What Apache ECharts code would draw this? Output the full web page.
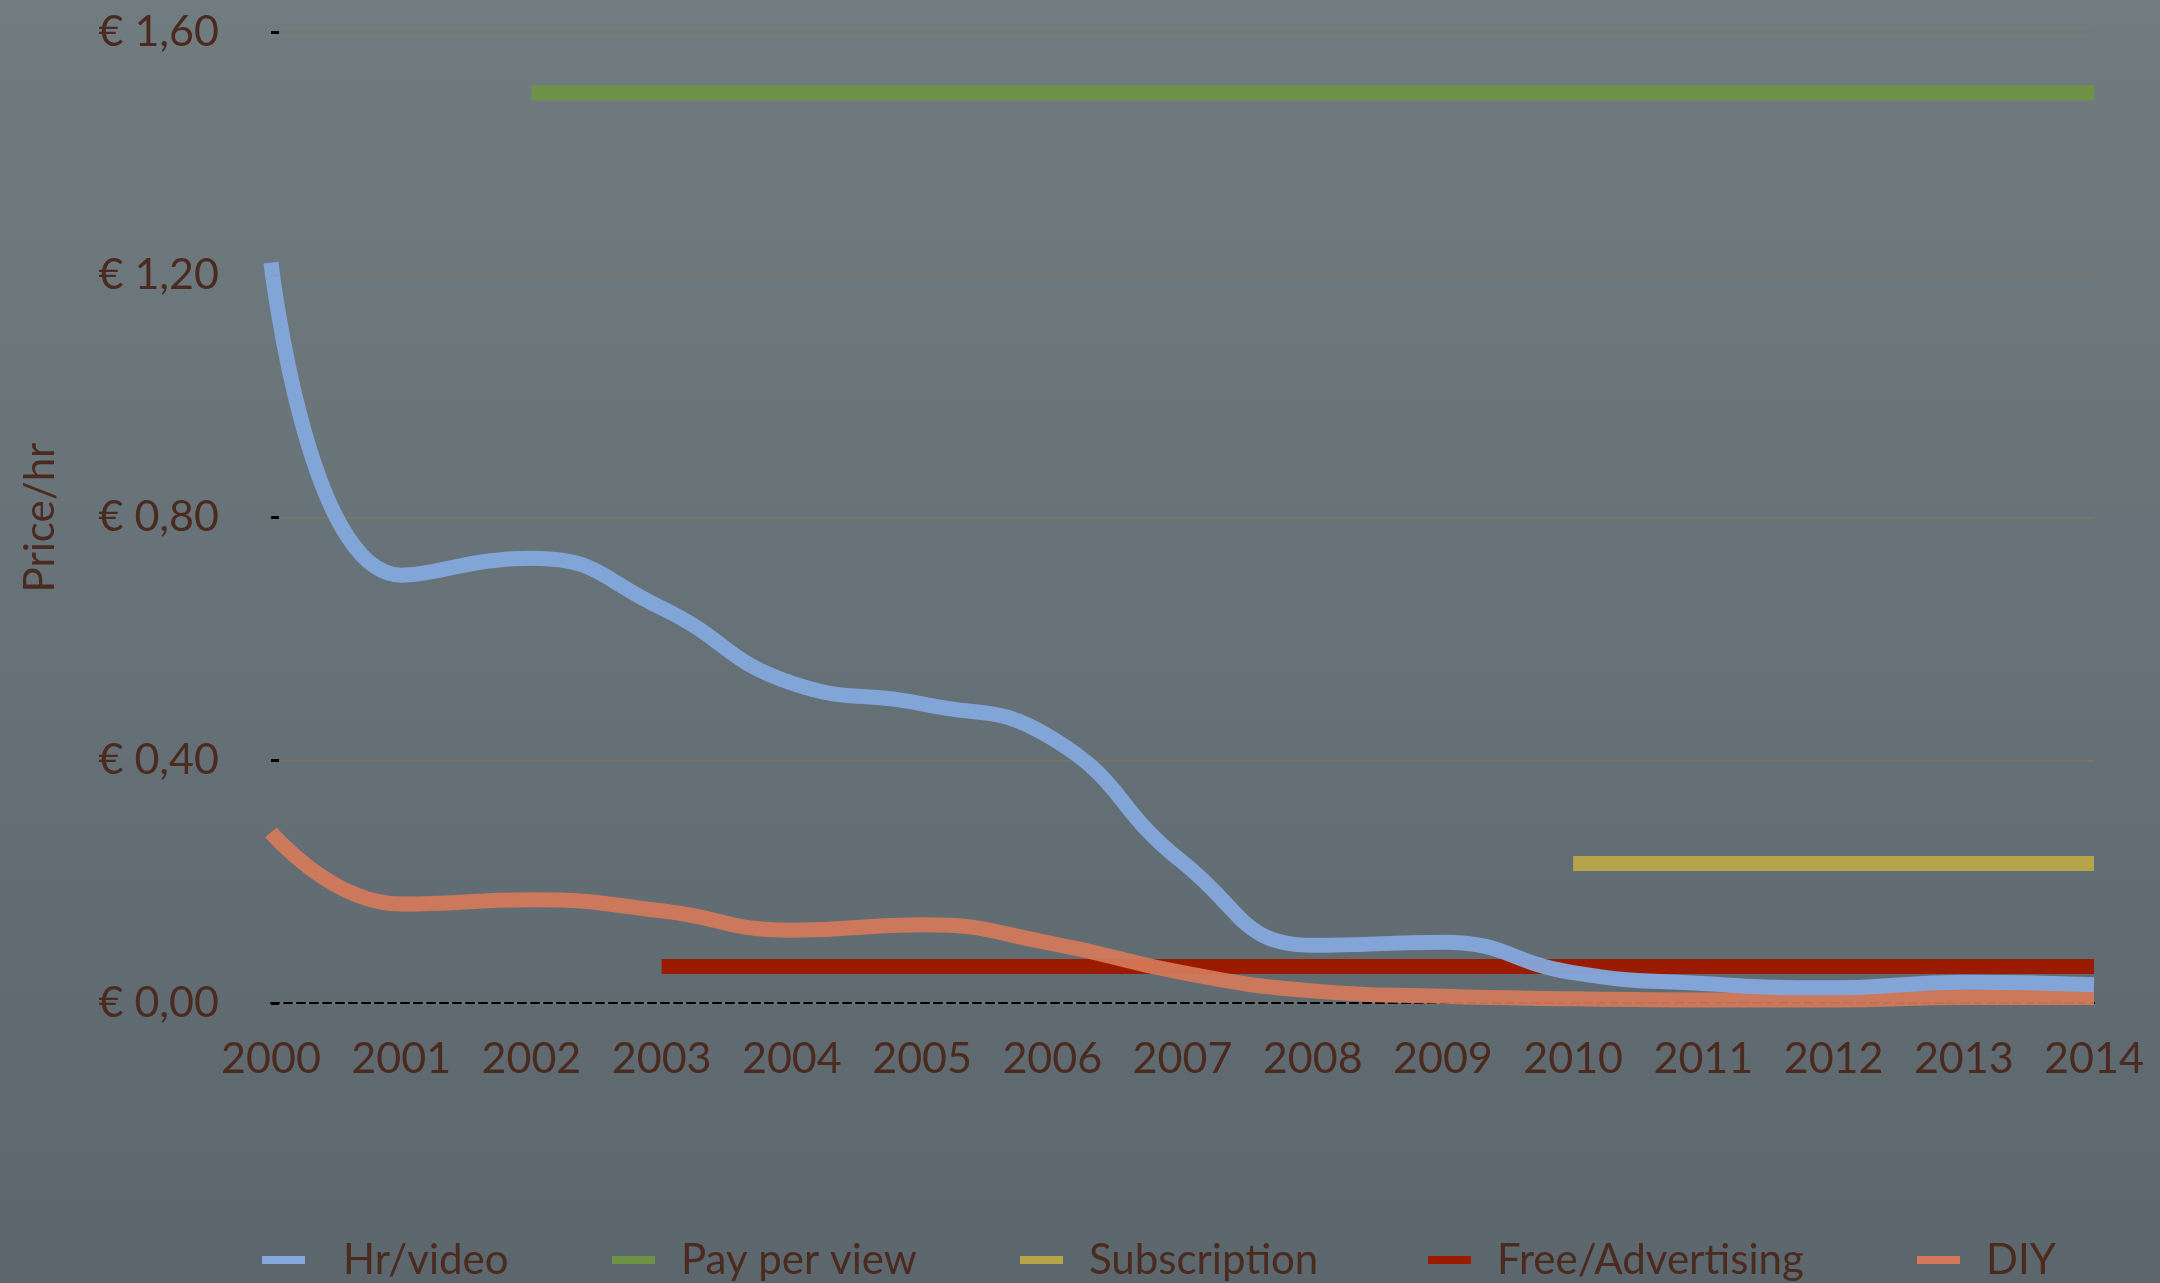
<!DOCTYPE html>
<html>
<head>
<meta charset="utf-8">
<style>
html,body{margin:0;padding:0;background:#66727a;}
#chart{width:2160px;height:1283px;}
</style>
<script src="https://cdn.jsdelivr.net/npm/echarts@6/dist/echarts.min.js"></script>
</head>
<body>
<div id="chart"></div>
<script>
var years = ['2000','2001','2002','2003','2004','2005','2006','2007','2008','2009','2010','2011','2012','2013','2014'];
var hrVideo = [1.22, 0.705, 0.733, 0.651, 0.527, 0.493, 0.436, 0.232, 0.095, 0.100, 0.050, 0.032, 0.025, 0.034, 0.030];
var payPerView = [null, null, 1.50, 1.50, 1.50, 1.50, 1.50, 1.50, 1.50, 1.50, 1.50, 1.50, 1.50, 1.50, 1.50];
var subscription = [null, null, null, null, null, null, null, null, null, null, 0.23, 0.23, 0.23, 0.23, 0.23];
var freeAdvertising = [null, null, null, 0.06, 0.06, 0.06, 0.06, 0.06, 0.06, 0.06, 0.06, 0.06, 0.06, 0.06, 0.06];
var diy = [0.281, 0.163, 0.170, 0.152, 0.120, 0.129, 0.098, 0.050, 0.020, 0.011, 0.007, 0.005, 0.005, 0.009, 0.009];
var seriesNames = ['Hr/video', 'Pay per view', 'Subscription', 'Free/Advertising', 'DIY'];
var yTicks = [0, 0.4, 0.8, 1.2, 1.6];

var colors = ['#84a8dc', '#6f9346', '#b5a44a', '#9b1b00', '#d6795a'];
var FONT = 'Lato';
var TXT = '#4b2a20';

var chart = echarts.init(document.getElementById('chart'), null, {renderer: 'canvas'});

var legendLefts = [262, 612, 1020, 1428, 1917];
var legendTextPad = [33, 21, 21, 21, 21];
var legends = seriesNames.map(function (n, i) {
  return {
    data: [n], left: legendLefts[i], top: 1239, padding: 0,
    icon: 'rect', itemWidth: 43, itemHeight: 8,
    textStyle: {color: TXT, fontFamily: FONT, fontSize: 42, padding: [0, 0, 0, legendTextPad[i]]},
    selectedMode: false
  };
});

function lineSeries(name, data, idx, smooth, z, opacity) {
  return {
    name: name, type: 'line', data: data, smooth: smooth,
    showSymbol: false, symbol: 'none', connectNulls: false,
    z: z,
    lineStyle: {color: colors[idx], width: 15, opacity: opacity, cap: 'butt', join: 'round'},
    itemStyle: {color: colors[idx]},
    emphasis: {disabled: true},
    animation: false
  };
}

chart.setOption({
  animation: false,
  backgroundColor: {
    type: 'linear', x: 0, y: 0, x2: 0, y2: 1,
    colorStops: [{offset: 0, color: '#717c81'}, {offset: 1, color: '#5b676d'}]
  },
  color: colors,
  grid: {left: 271, right: 66, top: 32, bottom: 280, containLabel: false},
  legend: legends,
  xAxis: {
    type: 'category', data: years, boundaryGap: false,
    axisLine: {show: true, lineStyle: {color: '#000', width: 2, type: [8, 5]}},
    axisTick: {show: false},
    axisLabel: {color: TXT, fontFamily: FONT, fontSize: 43, margin: 35},
    splitLine: {show: false}
  },
  yAxis: {
    type: 'value', min: 0, max: 1.6, interval: 0.4,
    name: 'Price/hr', nameLocation: 'middle', nameRotate: 90, nameGap: 210,
    nameTextStyle: {color: TXT, fontFamily: FONT, fontSize: 42},
    axisLine: {show: false},
    axisTick: {show: true, inside: true, length: 8, lineStyle: {color: '#000', width: 3}},
    axisLabel: {
      color: TXT, fontFamily: FONT, fontSize: 43, margin: 52,
      formatter: function (v) { return '€ ' + v.toFixed(2).replace('.', ','); }
    },
    splitLine: {show: true, lineStyle: {color: '#7c7466', width: 1.5}}
  },
  series: [
    lineSeries(seriesNames[0], hrVideo, 0, 0.5, 6, 0.95),
    lineSeries(seriesNames[1], payPerView, 1, false, 3, 1),
    lineSeries(seriesNames[2], subscription, 2, false, 3, 1),
    lineSeries(seriesNames[3], freeAdvertising, 3, false, 3, 1),
    lineSeries(seriesNames[4], diy, 4, 0.5, 5, 0.92)
  ]
});
</script>
</body>
</html>
